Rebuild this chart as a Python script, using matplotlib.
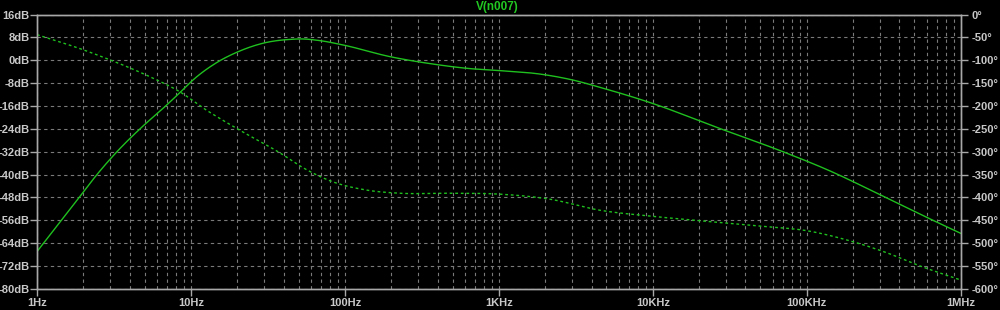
import numpy as np
import matplotlib
matplotlib.use("Agg")
import matplotlib.pyplot as plt
from matplotlib.ticker import FixedLocator, NullFormatter

freq_mag = [1, 1.883, 2.453, 3.307, 4.665, 6.78, 8.48, 10.3, 15, 20.2, 29.4,
            46, 51, 69, 97, 196, 373, 620, 1015, 1846, 3025, 4500, 9600, 27000, 70000,
            137000, 298000, 658000, 1000000]
mag_db = [-67, -48, -40, -32, -24, -16.2, -11.3, -6.9, -0.5, 3.0, 6.0,
          7.4, 7.5, 6.9, 5.4, 1.3, -1.3, -2.8, -3.6, -4.8, -6.9, -9.4, -14.8, -23.8, -32,
          -38.4, -47, -56, -60.6]

# Phase (pointillés)
freq_ph = [1, 2.0, 2.98, 5.42, 8.48, 12.6, 19.8, 39.7, 51, 83.5, 138, 228, 481, 1015,
           2146, 4500, 9600, 20000, 49500, 100000, 199000, 329000, 542000, 1000000]
phase_deg = [-43.8, -77, -99, -136, -169, -209, -249, -307, -331, -366, -384, -391, -391, -393,
             -404, -428, -441, -451, -463, -473, -497, -521, -550, -581]

db_ticks = list(range(16, -81, -8))
deg_ticks = list(range(0, -601, -50))
x_ticks = [1, 10, 100, 1e3, 1e4, 1e5, 1e6]
x_labels = ["1Hz", "10Hz", "100Hz", "1KHz", "10KHz", "100KHz", "1MHz"]

trace = "#1fc01f"
text_col = "#c8c8c8"
frame_col = "#a8a8a8"
grid_col = "#7a7a7a"
font = ["Liberation Sans", "DejaVu Sans"]


def smooth(xk, yk, xq):
    '''Interpolation de Hermite cubique (pentes par différences finies)'''
    xk = np.asarray(xk, dtype=float)
    yk = np.asarray(yk, dtype=float)
    h = np.diff(xk)
    d = np.diff(yk) / h
    m = np.empty_like(yk)
    m[1:-1] = (d[:-1] * h[1:] + d[1:] * h[:-1]) / (h[:-1] + h[1:])
    m[0], m[-1] = d[0], d[-1]
    i = np.clip(np.searchsorted(xk, xq) - 1, 0, len(h) - 1)
    t = (xq - xk[i]) / h[i]
    h00 = 2 * t**3 - 3 * t**2 + 1
    h10 = t**3 - 2 * t**2 + t
    h01 = -2 * t**3 + 3 * t**2
    h11 = t**3 - t**2
    return h00 * yk[i] + h10 * h[i] * m[i] + h01 * yk[i + 1] + h11 * h[i] * m[i + 1]


fig = plt.figure(figsize=(10, 3.1), dpi=100, facecolor="black")
ax = fig.add_axes([0.037, 0.0687, 0.9237, 0.884], facecolor="black")

lf = np.linspace(0, 6, 800)
ax.plot(10**lf, smooth(np.log10(freq_mag), mag_db, lf), color=trace, lw=1.0)

ax.set_xscale("log")
ax.set_xlim(1, 1e6)
ax.set_ylim(-80, 16)

ax2 = ax.twinx()
ax2.plot(10**lf, smooth(np.log10(freq_ph), phase_deg, lf),
         color=trace, lw=1.0, ls=(0, (2, 2)))
ax2.set_ylim(-600, 0)

minor = [m * 10.0 ** d for d in range(0, 6) for m in range(2, 10)]
ax.xaxis.set_major_locator(FixedLocator(x_ticks))
ax.xaxis.set_minor_locator(FixedLocator(minor))
ax.xaxis.set_minor_formatter(NullFormatter())
ax.set_xticklabels(x_labels)
ax.set_yticks(db_ticks)
ax.set_yticklabels([f"{v}dB" for v in db_ticks])
ax2.set_yticks(deg_ticks)
ax2.set_yticklabels([f"{v}°" for v in deg_ticks])

ax.grid(True, which="both", axis="x", color=grid_col, ls=(0, (3, 3)), lw=0.8)
ax.grid(True, which="major", axis="y", color=grid_col, ls=(0, (3, 3)), lw=0.8)

for a in (ax, ax2):
    for s in a.spines.values():
        s.set_color(frame_col)
        s.set_linewidth(1.0)
    a.tick_params(colors=frame_col, labelcolor=text_col, labelsize=8, length=5, width=1)
    for lab in a.get_xticklabels() + a.get_yticklabels():
        lab.set_family(font)
        lab.set_fontweight("bold")
ax.tick_params(axis="x", which="minor", length=0)
ax.tick_params(axis="x", pad=2)
ax.tick_params(axis="y", pad=0.5)
ax2.tick_params(axis="y", pad=3)

fig.text(0.4975, 0.977, "V(n007)", color="#22c822", fontsize=8.5, fontweight="bold",
         family=font, ha="center", va="center")

fig.savefig("out.png", dpi=100, facecolor="black")
